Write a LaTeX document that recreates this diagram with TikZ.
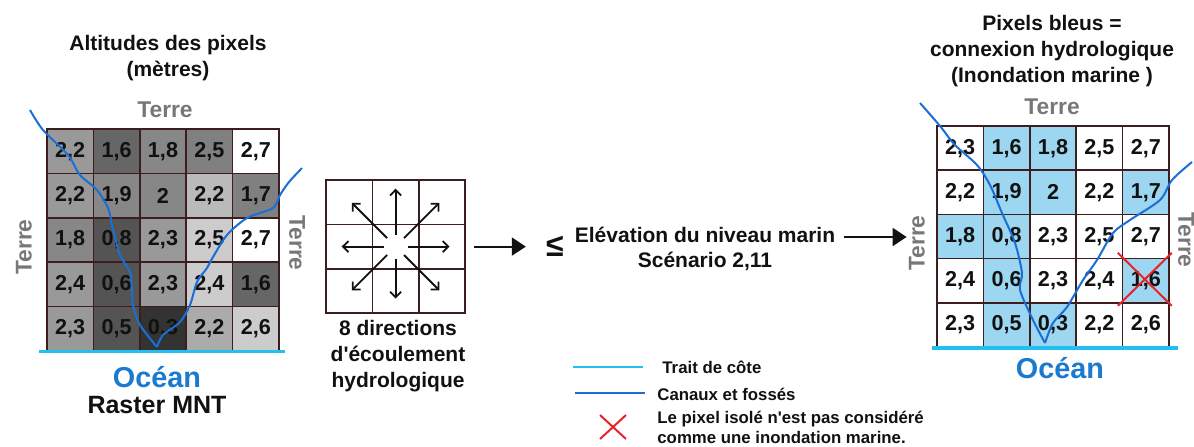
\documentclass[tikz,border=0pt]{standalone}
\usepackage{fontspec}
\setmainfont{Liberation Sans}
\usetikzlibrary{arrows.meta,calc,positioning}
\definecolor{cgrid}{HTML}{3C1E1E}
\definecolor{cterre}{HTML}{777777}
\definecolor{cocean}{HTML}{1A7AD0}
\definecolor{ccoast}{HTML}{22C0F0}
\definecolor{ccanal}{HTML}{1A6FD6}
\definecolor{cflood}{HTML}{9DD6F0}
\definecolor{cred}{HTML}{E8222A}
\definecolor{cdark}{HTML}{111111}

\begin{document}
\begin{tikzpicture}[x=0.5pt,y=-0.5pt,
  cell/.style={draw=cgrid, line width=0.75pt, minimum width=23.2pt, minimum height=22.2pt, inner sep=0, text=cdark, font=\bfseries\fontsize{10.8}{12}\selectfont},
  hdr/.style={align=center, inner sep=0, text=cdark, font=\bfseries\fontsize{10.5}{13}\selectfont},
  terre/.style={inner sep=0, text=cterre, font=\bfseries\fontsize{11.4}{13}\selectfont},
  ocean/.style={inner sep=0, text=cocean, font=\bfseries\fontsize{14.4}{16}\selectfont},
  leg/.style={anchor=west, align=left, inner sep=0, text=cdark, font=\bfseries\fontsize{8.4}{10}\selectfont},
  coast/.style={draw=ccoast, line width=1.6pt},
  canal/.style={draw=ccanal, line width=1pt},
  redx/.style={draw=cred, line width=1pt},
  arr/.style={-{Triangle[length=7pt, width=9pt]}, line width=0.9pt, draw=cdark},
  dirarr/.style={-{Straight Barb[length=2.8pt, width=5.5pt]}, line width=0.9pt, draw=cdark}]

\useasboundingbox (0,0) rectangle (1194,446);

% raster MNT
\node[hdr] (altTitle) at (168,58) {Altitudes des pixels\\(mètres)};
\foreach \vals [count=\r] in {
  {black!40/{2,2},black!60/{1,6},black!47/{1,8},black!50/{2,5},white/{2,7}},
  {black!40/{2,2},black!47/{1,9},black!47/{2},black!27/{2,2},black!50/{1,7}},
  {black!47/{1,8},black!67/{0,8},black!40/{2,3},black!20/{2,5},white/{2,7}},
  {black!40/{2,4},black!67/{0,6},black!40/{2,3},black!20/{2,4},black!60/{1,6}},
  {black!40/{2,3},black!67/{0,5},black!80/{0,3},black!33/{2,2},black!20/{2,6}}}
  \foreach \f/\v [count=\c] in \vals
    \node[cell, fill=\f] (L\r\c) at ({70.2+46.4*(\c-1)},{151.2+44.4*(\r-1)}) {\v};
\node[terre] (terreLT) at (165,110) {Terre};
\node[terre, rotate=90] (terreLL) at (24,247) {Terre};
\node[terre, rotate=-90] (terreLR) at (297,243) {Terre};
\draw[coast] ([xshift=-3.5pt]L51.south west) -- ([xshift=2.5pt]L55.south east);
\draw[canal] plot[smooth] coordinates {(30,110) (43,130) (68,155) (80,175) (97,190) (108,208) (112,225) (120,255) (130,272) (132,290) (133,305) (140,325) (157,347)};
\draw[canal] plot[smooth] coordinates {(302,168) (289,182) (280,195) (273,208) (247,218) (227,235) (213,257) (207,268) (197,282) (190,305) (180,322) (163,335) (157,347)};
\node[ocean] (oceanL) at (157,377) {Océan};
\node[inner sep=0, text=cdark, font=\bfseries\fontsize{12.5}{14}\selectfont] (mnt) at (157,405) {Raster MNT};

% 8 directions
\foreach \r in {1,2,3}
  \foreach \c in {1,2,3}
    \node[cell] (D\r\c) at ({349.2+46.4*(\c-1)},{202.2+44.4*(\r-1)}) {};
\foreach \a/\len in {0/42,45/50,90/40,135/50,180/42,225/50,270/46,315/50}
  \draw[dirarr] (D22.center) ++(\a:12) -- ++(\a:\len);
\node[hdr] (dirsTxt) at (398,356) {8 directions\\d\textquotesingle écoulement\\hydrologique};

% scenario
\node[inner sep=0, text=cdark, font=\bfseries\fontsize{16}{16}\selectfont] (le) at (555,246) {≤};
\node[hdr, font=\bfseries\fontsize{10.5}{12.5}\selectfont] (niveau) at (705,249) {Elévation du niveau marin\\Scénario 2,11};
\draw[arr, shorten <=4pt, shorten >=10pt] (D23.east) -- (D23.east -| le.west);

% connexion hydrologique
\node[hdr] (bleuTitle) at (1052,51) {Pixels bleus =\\connexion hydrologique\\(Inondation marine )};
\foreach \vals [count=\r] in {
  {white/{2,3},cflood/{1,6},cflood/{1,8},white/{2,5},white/{2,7}},
  {white/{2,2},cflood/{1,9},cflood/{2},white/{2,2},cflood/{1,7}},
  {cflood/{1,8},cflood/{0,8},white/{2,3},white/{2,5},white/{2,7}},
  {white/{2,4},cflood/{0,6},white/{2,3},white/{2,4},cflood/{1,6}},
  {white/{2,3},cflood/{0,5},cflood/{0,3},white/{2,2},white/{2,6}}}
  \foreach \f/\v [count=\c] in \vals
    \node[cell, fill=\f] (R\r\c) at ({960.2+46.4*(\c-1)},{148.2+44.2*(\r-1)}) {\v};
\node[terre] (terreRT) at (1052,107) {Terre};
\node[terre, rotate=90] (terreRL) at (917,243) {Terre};
\node[terre, rotate=-90] (terreRR) at (1186,240) {Terre};
\draw[arr, shorten <=4pt, shorten >=1pt] (niveau.east |- 0,237) -- (terreRL.north |- 0,237);
\draw[coast] ([xshift=-2pt]R51.south west) -- ([xshift=4pt]R55.south east);
\draw[canal] plot[smooth] coordinates {(920,103) (940,126) (955,145) (977,165) (990,185) (1002,213) (1015,243) (1022,273) (1020,290) (1033,320) (1045,343)};
\draw[canal] plot[smooth] coordinates {(1192,162) (1172,180) (1160,200) (1130,220) (1113,233) (1097,260) (1083,280) (1067,307) (1053,323) (1045,343)};
\draw[redx] ([shift={(-4,-5)}]R45.north west) -- ([shift={(2,2)}]R45.south east);
\draw[redx] ([shift={(-4,2)}]R45.south west) -- ([shift={(2,-5)}]R45.north east);
\node[ocean] (oceanR) at (1060,368) {Océan};

% legend
\node[leg] (legCoast) at (662,367) {Trait de côte};
\node[leg] (legCanal) at (657,394) {Canaux et fossés};
\node[leg] (legIso) at (657,427) {Le pixel isolé n\textquotesingle est pas considéré\\comme une inondation marine.};
\draw[coast, line width=0.8pt] (573,367) -- (643,367);
\draw[canal, line width=0.8pt] (575,393) -- (645,393);
\draw[redx] (600,415) -- (626,439);
\draw[redx] (600,439) -- (626,415);
\end{tikzpicture}
\end{document}
